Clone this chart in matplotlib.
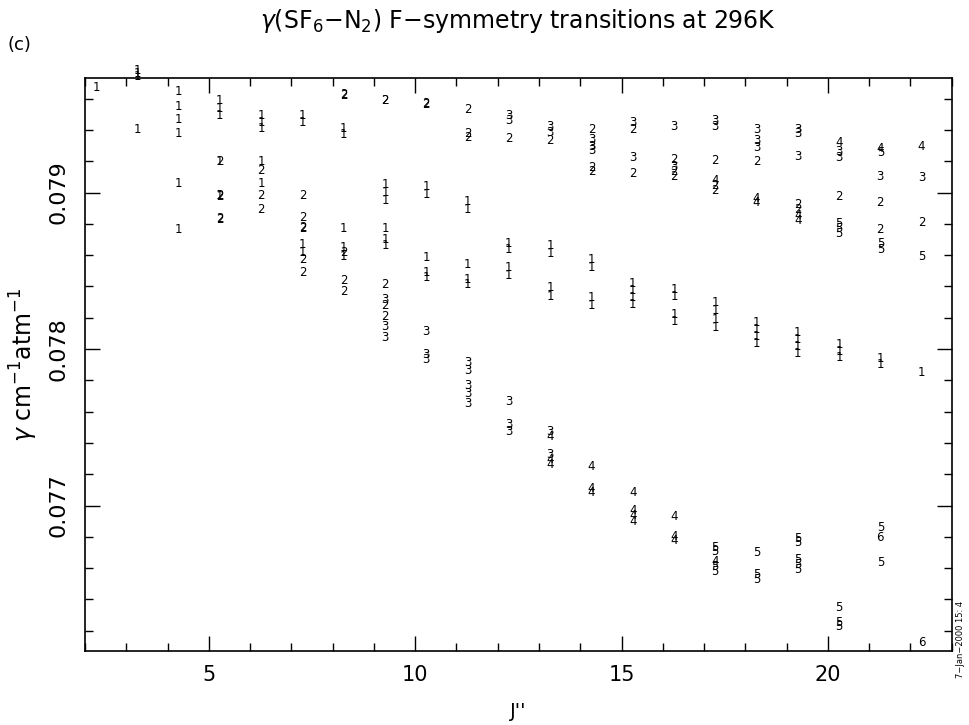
import matplotlib
matplotlib.use("Agg")
import matplotlib.pyplot as plt
from matplotlib.ticker import MultipleLocator, FixedLocator

# gamma values (cm-1 atm-1) per branch label, keyed by J''
branch1 = {
    2: [0.07967],
    3: [0.07978, 0.07976, 0.07974, 0.07940],
    4: [0.079645, 0.07955, 0.079465, 0.07938, 0.07906, 0.078766],
    5: [0.07959, 0.07954, 0.07949, 0.07920, 0.07898],
    6: [0.07949, 0.07945, 0.07941, 0.07920, 0.07906],
    7: [0.07949, 0.07945, 0.078666, 0.078615],
    8: [0.07941, 0.07937, 0.078767, 0.07865, 0.07859],
    9: [0.07905, 0.07900, 0.07895, 0.07877, 0.07870, 0.07866],
    10: [0.07904, 0.07899, 0.078583, 0.078487, 0.078455],
    11: [0.07894, 0.07889, 0.078538, 0.078442, 0.07841],
    12: [0.078672, 0.078634, 0.078519, 0.078468],
    13: [0.078659, 0.078608, 0.078391, 0.078334],
    14: [0.07857, 0.078519, 0.078327, 0.078276],
    15: [0.078417, 0.078372, 0.078327, 0.078282],
    16: [0.078378, 0.078334, 0.078218, 0.078174],
    17: [0.078295, 0.078244, 0.078187, 0.078135],
    18: [0.078167, 0.078123, 0.078078, 0.078033],
    19: [0.078103, 0.078059, 0.078014, 0.077969],
    20: [0.078027, 0.077982, 0.077944],
    21: [0.077937, 0.077899],
    22: [0.077848],
}
branch2 = {
    5: [0.07920, 0.078981, 0.078975, 0.078836, 0.07883],
    6: [0.07914, 0.07898, 0.07889],
    7: [0.07898, 0.07884, 0.078774, 0.07877, 0.07857, 0.078487],
    8: [0.079624, 0.07962, 0.07862, 0.07844, 0.07837],
    9: [0.07959, 0.079585, 0.07841, 0.078276, 0.078206],
    10: [0.07957, 0.079565],
    11: [0.07953, 0.07938, 0.07935],
    12: [0.079343],
    13: [0.07933],
    14: [0.079401, 0.079158, 0.079132],
    15: [0.079401, 0.079119],
    16: [0.079209, 0.079133, 0.0791],
    17: [0.079203, 0.079043, 0.079011],
    18: [0.079196],
    19: [0.078921, 0.07889],
    20: [0.078973],
    21: [0.078934, 0.078762],
    22: [0.078806],
}
branch3 = {
    9: [0.078314, 0.078142, 0.078072],
    10: [0.07811, 0.077963, 0.07793],
    11: [0.077912, 0.077861, 0.077765, 0.077714, 0.07765],
    12: [0.07949, 0.079458, 0.077663, 0.077516, 0.077471],
    13: [0.07942, 0.079381, 0.077471, 0.077324],
    14: [0.079337, 0.079297, 0.079266],
    15: [0.079445, 0.079222],
    16: [0.07942, 0.079164],
    17: [0.079458, 0.07942],
    18: [0.079401, 0.07933, 0.079285],
    19: [0.079401, 0.079375, 0.079228],
    20: [0.07926, 0.079222],
    21: [0.0791],
    22: [0.079094],
}
branch4 = {
    13: [0.077439, 0.077292, 0.07726],
    14: [0.077247, 0.077107, 0.077081],
    15: [0.077081, 0.076966, 0.076934, 0.076896],
    16: [0.076928, 0.0768, 0.076774],
    17: [0.079075, 0.07664],
    18: [0.07896, 0.078934],
    19: [0.078851, 0.078819],
    20: [0.079318],
    21: [0.079279],
    22: [0.079292],
}
branch5 = {
    17: [0.07673, 0.076704, 0.076608, 0.076576],
    18: [0.076698, 0.076557, 0.076525],
    19: [0.076787, 0.076762, 0.076653, 0.076621, 0.076589],
    20: [0.0788, 0.078768, 0.078736, 0.076346, 0.07625, 0.076225],
    21: [0.079254, 0.078672, 0.078634, 0.076857, 0.076634],
    22: [0.078589],
}
branch6 = {
    21: [0.076793],
    22: [0.076123],
}
branches = {"1": branch1, "2": branch2, "3": branch3,
            "4": branch4, "5": branch5, "6": branch6}

fig = plt.figure(figsize=(9.69, 7.25), dpi=100)
ax = fig.add_axes([0.0877, 0.102, 0.8945, 0.790])

for label, data in branches.items():
    for j, gammas in data.items():
        for g in gammas:
            ax.annotate(label, (j, g), xytext=(8, 0), textcoords="offset points",
                        ha="center", va="center", fontsize=8.5, annotation_clip=False)

ax.set_xlim(2, 23)
ax.set_ylim(0.07607, 0.07973)

ax.xaxis.set_major_locator(FixedLocator([5, 10, 15, 20]))
ax.xaxis.set_minor_locator(MultipleLocator(1))
ax.yaxis.set_major_locator(FixedLocator([0.077, 0.078, 0.079]))
ax.yaxis.set_minor_locator(MultipleLocator(0.0002))
ax.tick_params(which="both", direction="in", top=True, right=True, width=1.0, color="black")
ax.tick_params(which="major", length=11)
ax.tick_params(which="minor", length=6)
ax.tick_params(axis="x", labelsize=15, pad=10)
ax.tick_params(axis="y", labelsize=16, pad=12)
ax.set_yticklabels(["0.077", "0.078", "0.079"], rotation=90, va="center")
for s in ax.spines.values():
    s.set_linewidth(1.2)

ax.set_xlabel("J''", fontsize=14, labelpad=12)
ax.set_ylabel(r"$\gamma$ cm$^{-1}$atm$^{-1}$", fontsize=17, labelpad=6)
ax.set_title(r"$\gamma$(SF$_6$$-$N$_2$) F$-$symmetry transitions at 296K", fontsize=17, pad=36)

fig.text(0.008, 0.938, "(c)", fontsize=13, ha="left", va="center")
fig.text(0.991, 0.118, "7\u2212Jan\u22122000 15: 4", rotation=90, fontsize=6,
         ha="center", va="center")

fig.savefig("out.png", dpi=100)
